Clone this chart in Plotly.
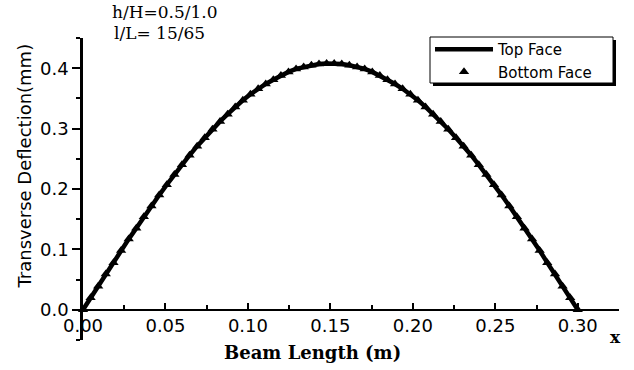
import plotly.graph_objects as go

# Beam positions (m) and deflections (mm)
beam_x = [0.0000, 0.0046, 0.0092, 0.0138, 0.0185, 0.0231, 0.0277, 0.0323, 0.0369, 0.0415,
          0.0462, 0.0508, 0.0554, 0.0600, 0.0646, 0.0692, 0.0738, 0.0785, 0.0831, 0.0877,
          0.0923, 0.0969, 0.1015, 0.1062, 0.1108, 0.1154, 0.1200, 0.1246, 0.1292, 0.1338,
          0.1385, 0.1431, 0.1477, 0.1523, 0.1569, 0.1615, 0.1662, 0.1708, 0.1754, 0.1800,
          0.1846, 0.1892, 0.1938, 0.1985, 0.2031, 0.2077, 0.2123, 0.2169, 0.2215, 0.2262,
          0.2308, 0.2354, 0.2400, 0.2446, 0.2492, 0.2538, 0.2585, 0.2631, 0.2677, 0.2723,
          0.2769, 0.2815, 0.2862, 0.2908, 0.2954, 0.3000]

top_face = [0.000, 0.020, 0.039, 0.059, 0.078, 0.098, 0.117, 0.135, 0.154, 0.172,
            0.190, 0.207, 0.224, 0.240, 0.256, 0.271, 0.285, 0.299, 0.312, 0.324,
            0.336, 0.347, 0.357, 0.366, 0.374, 0.381, 0.388, 0.394, 0.399, 0.402,
            0.405, 0.407, 0.408, 0.408, 0.407, 0.405, 0.402, 0.399, 0.394, 0.388,
            0.381, 0.374, 0.366, 0.357, 0.347, 0.336, 0.324, 0.312, 0.299, 0.285,
            0.271, 0.256, 0.240, 0.224, 0.207, 0.190, 0.172, 0.154, 0.135, 0.117,
            0.098, 0.078, 0.059, 0.039, 0.020, 0.000]

bottom_face = [0.000, 0.020, 0.039, 0.059, 0.078, 0.098, 0.117, 0.135, 0.154, 0.172,
               0.190, 0.207, 0.224, 0.240, 0.256, 0.271, 0.285, 0.299, 0.312, 0.324,
               0.336, 0.347, 0.357, 0.366, 0.374, 0.381, 0.388, 0.394, 0.399, 0.402,
               0.405, 0.407, 0.408, 0.408, 0.407, 0.405, 0.402, 0.399, 0.394, 0.388,
               0.381, 0.374, 0.366, 0.357, 0.347, 0.336, 0.324, 0.312, 0.299, 0.285,
               0.271, 0.256, 0.240, 0.224, 0.207, 0.190, 0.172, 0.154, 0.135, 0.117,
               0.098, 0.078, 0.059, 0.039, 0.020, 0.000]

series_names = ["Top Face", "Bottom Face"]
x_title = "Beam Length (m)"
y_title = "Transverse Deflection(mm)"
notes = ["h/H=0.5/1.0", "l/L= 15/65"]

SANS = "DejaVu Sans"
SERIF = "DejaVu Serif"

fig = go.Figure()
fig.add_trace(go.Scatter(
    x=beam_x, y=top_face, mode="lines", name=series_names[0],
    line=dict(color="black", width=4.5), cliponaxis=False))
fig.add_trace(go.Scatter(
    x=beam_x, y=bottom_face, mode="markers", name=series_names[1],
    marker=dict(symbol="triangle-up", size=9, color="black"), cliponaxis=False))

# legend frame with drop shadow (legend itself is drawn transparent on top)
fig.add_shape(type="rect", xref="paper", yref="paper",
              x0=0.65299, x1=0.99440, y0=0.84106, y1=0.99338,
              fillcolor="black", line=dict(width=0), layer="above")
fig.add_shape(type="rect", xref="paper", yref="paper",
              x0=0.6474, x1=0.98881, y0=0.85099, y1=1.00331,
              fillcolor="white", line=dict(color="black", width=1), layer="above")

fig.update_layout(
    width=634, height=370,
    margin=dict(l=83, r=15, t=38, b=30, pad=0),
    paper_bgcolor="white", plot_bgcolor="white",
    showlegend=True,
    legend=dict(
        x=0.6474, y=1.0166, xanchor="left", yanchor="top",
        bgcolor="rgba(0,0,0,0)", borderwidth=0,
        font=dict(family=SANS, size=15, color="black"),
        itemwidth=58, tracegroupgap=0,
    ),
    xaxis=dict(
        range=[0, 0.325], anchor="free", position=0.1,
        showline=True, linecolor="black", linewidth=2,
        ticks="inside", ticklen=6, tickwidth=2, tickcolor="black",
        tick0=0, dtick=0.05, tickformat=".2f",
        tickfont=dict(family=SANS, size=18, color="black"),
        showgrid=False, zeroline=False,
        minor=dict(ticks="inside", ticklen=4, tickwidth=2, tickcolor="black",
                   dtick=0.025, tick0=0, showgrid=False),
    ),
    yaxis=dict(
        range=[-0.0502, 0.4502],
        showline=True, linecolor="black", linewidth=2.5,
        ticks="outside", ticklen=8, tickwidth=2, tickcolor="black",
        tick0=0, dtick=0.1, tickformat=".1f",
        tickfont=dict(family=SANS, size=18, color="black"),
        showgrid=False, zeroline=False,
        minor=dict(ticks="outside", ticklen=4, tickwidth=2, tickcolor="black",
                   dtick=0.05, tick0=0, showgrid=False),
    ),
)

# Axis titles and notes
fig.add_annotation(text=y_title, xref="paper", yref="paper", x=-0.110, y=0.5745,
                   textangle=-90, showarrow=False, xanchor="center", yanchor="middle",
                   font=dict(family=SANS, size=18, color="black"))
fig.add_annotation(text="<b>%s</b>" % x_title, xref="paper", yref="paper", x=0.429, y=-0.043,
                   showarrow=False, xanchor="center", yanchor="middle",
                   font=dict(family=SERIF, size=18, color="black"))
fig.add_annotation(text="<b>x</b>", xref="paper", yref="paper", x=0.993, y=0.01,
                   showarrow=False, xanchor="center", yanchor="middle",
                   font=dict(family=SERIF, size=17, color="black"))
fig.add_annotation(text=notes[0], xref="paper", yref="paper", x=0.050, y=1.086,
                   showarrow=False, xanchor="left", yanchor="middle",
                   font=dict(family=SERIF, size=17, color="black"))
fig.add_annotation(text=notes[1], xref="paper", yref="paper", x=0.054, y=1.016,
                   showarrow=False, xanchor="left", yanchor="middle",
                   font=dict(family=SERIF, size=17, color="black"))

fig.write_html("out.html")
